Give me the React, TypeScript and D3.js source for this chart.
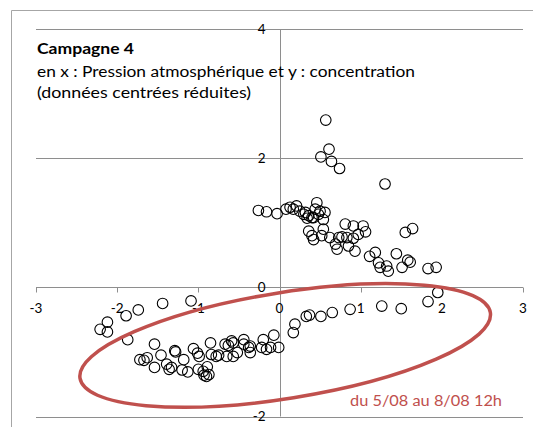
import React from "react";
import * as d3 from "d3";

const W = 533;
const H = 427;

const xTicks = [-3, -2, -1, 0, 1, 2, 3];
const yTicks = [-2, 0, 2, 4];

const titleLines = [
  "Campagne 4",
  "en x : Pression atmosphérique et y : concentration",
  "(données centrées réduites)",
];
const annotation = "du 5/08 au 8/08 12h";

// upper group (x, y)
const upperX = [
  0.57, 0.61, 0.51, 0.64, 0.74, 1.30,
  -0.26, -0.16, -0.03, 0.08, 0.13, 0.17, 0.21, 0.25, 0.32, 0.36, 0.46, 0.44, 0.50, 0.56, 0.54, 0.40, 0.30, 0.42, 0.34, 0.48,
  0.36, 0.40, 0.42, 0.54, 0.52, 0.62, 0.69, 0.71, 0.73, 0.77, 0.81, 0.83, 0.85, 0.91, 0.91, 0.93, 0.97, 1.03, 1.06,
  1.11, 1.18, 1.22, 1.24, 1.32, 1.34, 1.44, 1.51, 1.58, 1.61, 1.55, 1.64, 1.83, 1.93,
];
const upperY = [
  2.59, 2.14, 2.02, 1.95, 1.84, 1.60,
  1.19, 1.17, 1.14, 1.21, 1.24, 1.21, 1.26, 1.18, 1.16, 1.11, 1.31, 1.21, 1.18, 1.16, 1.05, 1.08, 1.13, 1.08, 1.07, 1.13,
  0.87, 0.80, 0.74, 0.90, 0.80, 0.77, 0.67, 0.59, 0.77, 0.78, 0.98, 0.77, 0.64, 0.95, 0.76, 0.56, 0.82, 0.95, 0.86,
  0.48, 0.54, 0.38, 0.31, 0.33, 0.25, 0.52, 0.31, 0.42, 0.39, 0.85, 0.91, 0.29, 0.31,
];

// lower group (x, y)
const lowerX = [
  -2.21, -2.12, -2.12, -1.89, -1.74, -1.44, -1.09, -1.87, -1.54,
  -1.72, -1.67, -1.63, -1.54, -1.46, -1.39, -1.36, -1.33, -1.29, -1.28, -1.18, -1.20, -1.13,
  -1.06, -1.01, -0.99, -1.00, -0.94, -0.93, -0.89, -0.87, -0.90, -0.85, -0.84, -0.78, -0.75,
  -0.67, -0.65, -0.63, -0.59, -0.57, -0.57, -0.52, -0.44, -0.44, -0.38, -0.36, -0.36,
  -0.22, -0.20, -0.16, -0.11, -0.07, -0.01,
  0.17, 0.19, 0.33, 0.37, 0.51, 0.65, 0.87, 1.26, 1.50, 1.83, 1.95,
];
const lowerY = [
  -0.65, -0.54, -0.69, -0.44, -0.35, -0.25, -0.21, -0.81, -0.88,
  -1.12, -1.13, -1.09, -1.24, -1.05, -1.19, -1.27, -1.24, -0.98, -1.00, -1.12, -1.28, -1.31,
  -0.95, -1.02, -1.07, -1.27, -1.30, -1.36, -1.23, -1.35, -1.38, -0.86, -1.04, -1.07, -1.05,
  -0.88, -1.07, -0.90, -0.83, -0.86, -1.07, -1.01, -0.81, -0.88, -0.93, -1.01, -0.91,
  -0.93, -0.81, -0.96, -0.93, -0.74, -0.93,
  -0.70, -0.57, -0.45, -0.43, -0.45, -0.39, -0.34, -0.29, -0.33, -0.22, -0.08,
];

// annotation ellipse, in data units
const ellipseCenter = [0.07, -0.9];
const ellipseRadii = [2.56, 0.82];
const ellipseAngle = -9.1;

const x = d3.scaleLinear().domain([-3, 3]).range([36, 523]);
const y = d3.scaleLinear().domain([-2, 4]).range([416.5, 29]);

const GRID = "#8e8e8e";
const RED = "#C0504D";
const FONT = "Lato, 'Open Sans', sans-serif";

export default function App() {
  const points = [
    ...upperX.map((v, i) => [v, upperY[i]]),
    ...lowerX.map((v, i) => [v, lowerY[i]]),
  ];
  const x0 = x(0);
  const y0 = y(0);
  const ecx = x(ellipseCenter[0]);
  const ecy = y(ellipseCenter[1]);
  const erx = x(ellipseCenter[0] + ellipseRadii[0]) - ecx;
  const ery = ecy - y(ellipseCenter[1] + ellipseRadii[1]);
  return (
    <svg
      width={W}
      height={H}
      style={{ position: "absolute", left: 0, top: 0, background: "#fff" }}
    >
      <rect x={0} y={0} width={W} height={H} fill="#fff" />
      {/* frame */}
      <line x1={11.5} y1={10.5} x2={W} y2={10.5} stroke="#a6a6a6" strokeWidth={1} />
      <line x1={11.5} y1={10.5} x2={11.5} y2={H} stroke="#a6a6a6" strokeWidth={1} />
      {/* horizontal gridlines */}
      {yTicks
        .filter((t) => t !== 0)
        .map((t) => (
          <line
            key={"g" + t}
            x1={x(-3)}
            x2={x(3)}
            y1={Math.round(y(t)) + 0.5}
            y2={Math.round(y(t)) + 0.5}
            stroke={GRID}
            strokeWidth={1}
          />
        ))}
      {/* x axis */}
      <line x1={x(-3)} x2={x(3)} y1={Math.round(y0) + 0.5} y2={Math.round(y0) + 0.5} stroke={GRID} />
      {xTicks.map((t) => (
        <line
          key={"xt" + t}
          x1={Math.round(x(t)) + 0.5}
          x2={Math.round(x(t)) + 0.5}
          y1={Math.round(y0) + 0.5}
          y2={Math.round(y0) + 5.5}
          stroke={GRID}
        />
      ))}
      {/* y axis */}
      <line x1={Math.round(x0) + 0.5} x2={Math.round(x0) + 0.5} y1={y(4)} y2={y(-2)} stroke={GRID} />
      {yTicks.map((t) => (
        <line
          key={"yt" + t}
          x1={Math.round(x0) - 4.5}
          x2={Math.round(x0) + 0.5}
          y1={Math.round(y(t)) + 0.5}
          y2={Math.round(y(t)) + 0.5}
          stroke={GRID}
        />
      ))}
      {/* tick labels */}
      {xTicks.map((t) => (
        <text
          key={"xl" + t}
          x={x(t)}
          y={y0 + 26}
          textAnchor="middle"
          fontFamily={FONT}
          fontSize={13.5}
          fill="#000"
        >
          {t}
        </text>
      ))}
      {yTicks.map((t) => (
        <text
          key={"yl" + t}
          x={x0 - 14}
          y={y(t) + 4.5}
          textAnchor="end"
          fontFamily={FONT}
          fontSize={13.5}
          fill="#000"
        >
          {t}
        </text>
      ))}
      {/* points */}
      {points.map((p, i) => (
        <circle
          key={"p" + i}
          cx={x(p[0])}
          cy={y(p[1])}
          r={5.3}
          fill="none"
          stroke="#000"
          strokeWidth={1.1}
        />
      ))}
      {/* ellipse */}
      <ellipse
        cx={ecx}
        cy={ecy}
        rx={erx}
        ry={ery}
        transform={`rotate(${ellipseAngle} ${ecx} ${ecy})`}
        fill="none"
        stroke={RED}
        strokeWidth={3.5}
      />
      {/* title block */}
      <text x={37} y={54} fontFamily={FONT} fontSize={15.5} fontWeight="bold" fill="#000" textLength={97} lengthAdjust="spacingAndGlyphs">
        {titleLines[0]}
      </text>
      <text x={37} y={77} fontFamily={FONT} fontSize={15.5} fill="#000" textLength={378} lengthAdjust="spacingAndGlyphs">
        {titleLines[1]}
      </text>
      <text x={37} y={98} fontFamily={FONT} fontSize={15.5} fill="#000" textLength={214} lengthAdjust="spacingAndGlyphs">
        {titleLines[2]}
      </text>
      <text x={350} y={406} fontFamily={FONT} fontSize={15.5} fill={RED} textLength={152} lengthAdjust="spacingAndGlyphs">
        {annotation}
      </text>
    </svg>
  );
}
